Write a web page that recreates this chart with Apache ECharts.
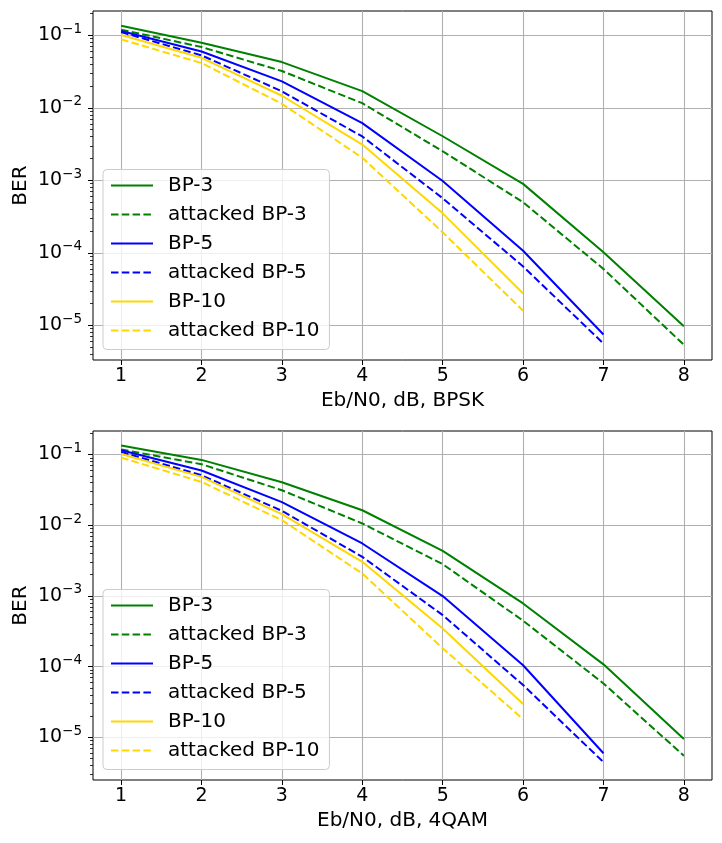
<!DOCTYPE html>
<html>
<head>
<meta charset="utf-8">
<script src="https://cdn.jsdelivr.net/npm/echarts@6/dist/echarts.min.js"></script>
<style>
  html, body { margin: 0; padding: 0; background: #fff; }
  #container { width: 722px; height: 843px; }
</style>
</head>
<body>
<div id="container"></div>
<script>
// Eb/N0 points, dB
var ebn0 = [1, 2, 3, 4, 5, 6, 7, 8];

// BER, BPSK (top plot)
var bpskBP3 = [0.136, 0.079, 0.0428, 0.017, 0.00406, 0.000895, 0.000102, 9.7e-6];
var bpskAttBP3 = [0.12, 0.069, 0.0322, 0.0116, 0.00252, 0.000499, 6.0e-5, 5.4e-6];
var bpskBP5 = [0.115, 0.060, 0.0232, 0.00615, 0.00098, 0.000107, 7.5e-6];
var bpskAttBP5 = [0.111, 0.053, 0.0169, 0.00403, 0.000566, 6.5e-5, 5.6e-6];
var bpskBP10 = [0.101, 0.049, 0.0147, 0.00312, 0.000351, 2.75e-5];
var bpskAttBP10 = [0.088, 0.0415, 0.0114, 0.00205, 0.000192, 1.59e-5];

// BER, 4QAM (bottom plot)
var qamBP3 = [0.134, 0.084, 0.0406, 0.0163, 0.00435, 0.000785, 0.000108, 9.5e-6];
var qamAttBP3 = [0.118, 0.073, 0.0313, 0.0106, 0.00282, 0.000447, 5.8e-5, 5.5e-6];
var qamBP5 = [0.115, 0.0594, 0.0212, 0.00553, 0.000997, 0.000105, 5.98e-6];
var qamAttBP5 = [0.109, 0.051, 0.016, 0.00358, 0.000537, 5.5e-5, 4.47e-6];
var qamBP10 = [0.102, 0.0483, 0.0144, 0.00304, 0.000348, 2.97e-5];
var qamAttBP10 = [0.0906, 0.041, 0.0118, 0.00208, 0.000182, 1.81e-5];

var seriesNames = ['BP-3', 'attacked BP-3', 'BP-5', 'attacked BP-5', 'BP-10', 'attacked BP-10'];
var xTicks = [1, 2, 3, 4, 5, 6, 7, 8];
var yMajor = [1e-5, 1e-4, 1e-3, 1e-2, 1e-1];
var xNames = ['Eb/N0, dB, BPSK', 'Eb/N0, dB, 4QAM'];

var FONT = 'DejaVu Sans';
var colors = { 'BP-3': '#008000', 'BP-5': '#0000ff', 'BP-10': '#ffd700' };

function minorTicks(lo, hi) {
    var out = [];
    for (var e = -7; e <= 0; e++) {
        for (var m = 2; m <= 9; m++) {
            var v = m * Math.pow(10, e);
            if (v >= lo && v <= hi) out.push(v);
        }
    }
    return out;
}

function supLabel(v) {
    var e = Math.round(Math.log10(v));
    return '{b|10}{s|\u2212' + (-e) + '}';
}

var grids = [
    { left: 93, right: 10, top: 11, height: 349 },
    { left: 93, right: 10, top: 431, height: 349 }
];
var yRanges = [[3.33e-6, 0.2168], [2.5e-6, 0.2153]];
var sets = [
    [bpskBP3, bpskAttBP3, bpskBP5, bpskAttBP5, bpskBP10, bpskAttBP10],
    [qamBP3, qamAttBP3, qamBP5, qamAttBP5, qamBP10, qamAttBP10]
];

var xAxes = [], yAxes = [], series = [], legends = [];

grids.forEach(function (g, gi) {
    g.show = true;
    g.borderColor = '#000';
    g.borderWidth = 1;
    g.backgroundColor = '#fff';

    xAxes.push({
        type: 'value', gridIndex: gi, min: 0.65, max: 8.35,
        name: xNames[gi], nameLocation: 'middle', nameGap: 31, nameMoveOverlap: false,
        nameTextStyle: { fontFamily: FONT, fontSize: 20, color: '#000' },
        axisLine: { show: false },
        axisTick: { show: true, inside: false, length: 5, customValues: xTicks, lineStyle: { color: '#000', width: 1 } },
        axisLabel: { customValues: xTicks, margin: 7, fontFamily: FONT, fontSize: 19, color: '#000' },
        splitLine: { show: true, lineStyle: { color: '#b0b0b0', width: 1.1 } }
    });

    var lo = yRanges[gi][0], hi = yRanges[gi][1];
    // major ticks + labels
    yAxes.push({
        type: 'log', logBase: 10, gridIndex: gi, min: lo, max: hi, position: 'left',
        name: 'BER', nameLocation: 'middle', nameGap: 62, nameMoveOverlap: false,
        nameTextStyle: { fontFamily: FONT, fontSize: 20, color: '#000' },
        axisLine: { show: false },
        axisTick: { show: true, length: 5, customValues: yMajor, lineStyle: { color: '#000', width: 1 } },
        axisLabel: {
            customValues: yMajor, margin: 11,
            formatter: supLabel,
            rich: {
                b: { fontFamily: FONT, fontSize: 19, color: '#000' },
                s: { fontFamily: FONT, fontSize: 13.5, color: '#000', padding: [0, 0, 12, 0] }
            }
        },
        splitLine: { show: true, lineStyle: { color: '#b0b0b0', width: 1.1 } }
    });
    // minor ticks only
    yAxes.push({
        type: 'log', logBase: 10, gridIndex: gi, min: lo, max: hi, position: 'left', offset: 0,
        axisLine: { show: false },
        axisTick: { show: true, length: 3, customValues: minorTicks(lo, hi), lineStyle: { color: '#000', width: 0.8 } },
        axisLabel: { show: false },
        splitLine: { show: false }
    });

    sets[gi].forEach(function (arr, si) {
        var nm = seriesNames[si];
        var dashed = nm.indexOf('attacked') === 0;
        var base = dashed ? nm.replace('attacked ', '') : nm;
        series.push({
            id: 'g' + gi + 's' + si,
            name: nm,
            type: 'line',
            xAxisIndex: gi,
            yAxisIndex: gi * 2,
            symbol: 'none',
            silent: true,
            z: 3,
            data: arr.map(function (v, i) { return [ebn0[i], v]; }),
            lineStyle: { color: colors[base], width: 2, type: dashed ? [7.5, 3.3] : 'solid' },
            itemStyle: { color: colors[base] }
        });
    });

    legends.push({
        data: seriesNames,
        orient: 'vertical',
        left: 103,
        top: g.top + 158.5,
        itemWidth: 42,
        itemHeight: 19,
        itemGap: 9,
        padding: [6, 10, 9, 7],
        backgroundColor: 'rgba(255,255,255,0.8)',
        borderColor: '#cccccc',
        borderWidth: 1,
        borderRadius: 4,
        selectedMode: false,
        itemStyle: { opacity: 0 },
        textStyle: { fontFamily: FONT, fontSize: 20, color: '#000', padding: [0, 0, 0, 10] }
    });
});

var myChart = echarts.init(document.getElementById('container'), null, { renderer: 'canvas' });
myChart.setOption({
    animation: false,
    backgroundColor: '#fff',
    textStyle: { fontFamily: FONT },
    grid: grids,
    xAxis: xAxes,
    yAxis: yAxes,
    legend: legends,
    series: series
});
</script>
</body>
</html>
